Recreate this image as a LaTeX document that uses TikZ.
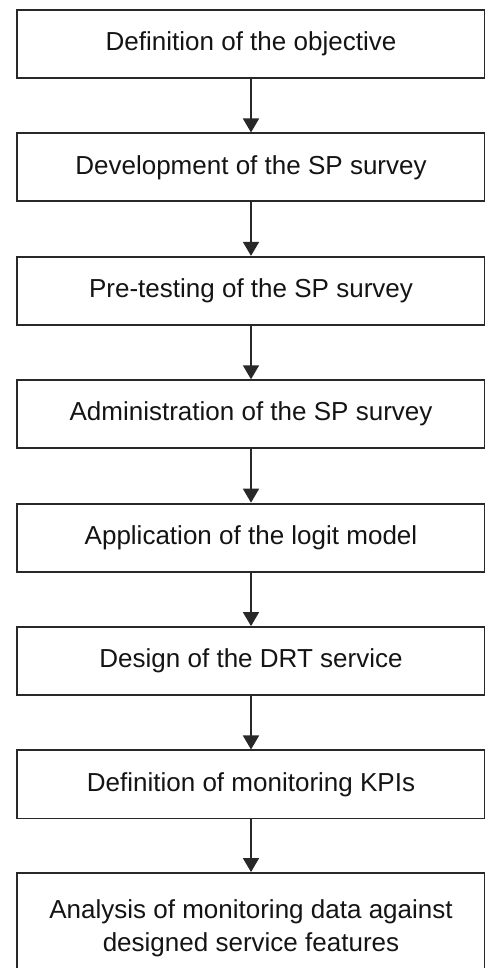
\documentclass[tikz,border=0pt]{standalone}
\usepackage{fontspec}
\setmainfont{Liberation Sans}
\usetikzlibrary{arrows.meta}
\definecolor{boxline}{RGB}{40, 40, 40}
\definecolor{boxtext}{RGB}{20, 20, 20}

\begin{document}
\begin{tikzpicture}[x=0.025cm, y=-0.025cm, font=\fontsize{18.5}{23.5}\selectfont,
  stage/.style={draw=boxline, line width=1.3pt, text=boxtext, minimum width=11.7cm,
    minimum height=1.7cm, inner sep=0pt, align=center},
  flow/.style={-{Triangle[width=0.4cm, length=0.35cm]}, line width=1.2pt, draw=boxline}]
  \useasboundingbox (0,0) rectangle (485,968);
  % stages
  \node[stage] (objective) at (251,44) {Definition of the objective};
  \node[stage] (development) at (251,167.4) {Development of the SP survey};
  \node[stage] (pretesting) at (251,290.8) {Pre-testing of the SP survey};
  \node[stage] (administration) at (251,414.2) {Administration of the SP survey};
  \node[stage] (logit) at (251,537.6) {Application of the logit model};
  \node[stage] (design) at (251,661) {Design of the DRT service};
  \node[stage] (kpis) at (251,784.4) {Definition of monitoring KPIs};
  \node[stage, minimum height=2.75cm] (analysis) at (251,928)
    {Analysis of monitoring data against\\designed service features};
  % arrows
  \draw[flow] (objective) -- (development);
  \draw[flow] (development) -- (pretesting);
  \draw[flow] (pretesting) -- (administration);
  \draw[flow] (administration) -- (logit);
  \draw[flow] (logit) -- (design);
  \draw[flow] (design) -- (kpis);
  \draw[flow] (kpis) -- (analysis);
\end{tikzpicture}
\end{document}
